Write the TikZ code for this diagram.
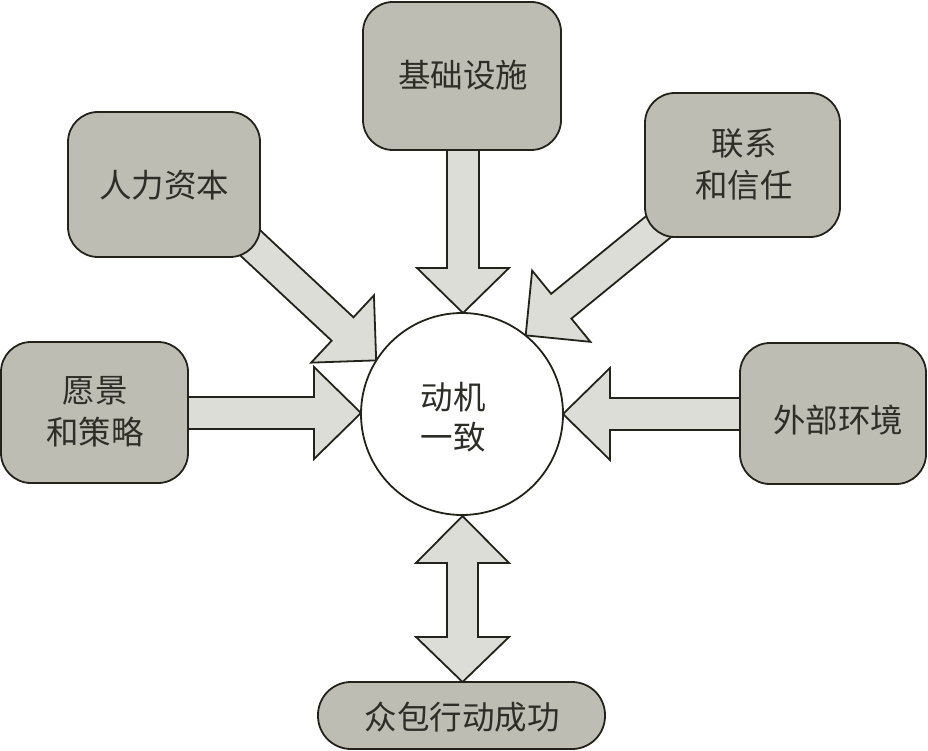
\documentclass[tikz,border=0pt]{standalone}
\usepackage{fontspec}
\newfontfamily\cjk{Noto Sans CJK SC}
\usetikzlibrary{calc}
\definecolor{boxfill}{HTML}{BDBDB4}
\definecolor{arrfill}{HTML}{DDDDD8}
\definecolor{edge}{HTML}{23231B}
\definecolor{txt}{HTML}{2E2E28}
\tikzset{
  boxstyle/.style={draw=edge, line width=1.8pt, fill=boxfill, rectangle, rounded corners=30pt, inner sep=0pt},
  arrstyle/.style={draw=edge, line width=1.8pt, fill=arrfill, line join=miter},
  labstyle/.style={text=txt, font=\cjk\fontsize{32.5}{42}\selectfont, align=center, inner sep=0pt},
}
% block arrow from #1 to #2: shaft half width #3, head half width #4, head length #5
\newcommand\blockarr[5]{%
  \coordinate (hb) at ($(#2)!#5!(#1)$);
  \draw[arrstyle] ($(#1)!#3!90:(#2)$) -- ($(hb)!#3!90:(#2)$) -- ($(hb)!#4!90:(#2)$) -- (#2)
     -- ($(hb)!#4!-90:(#2)$) -- ($(hb)!#3!-90:(#2)$) -- ($(#1)!#3!-90:(#2)$) -- cycle;
}
\begin{document}
\begin{tikzpicture}[x=1pt,y=-1pt]
\useasboundingbox (0,0) rectangle (928,751);
% centre circle position (used for anchors)
\node[circle, minimum size=202pt, inner sep=0pt] (c) at (462,414) {};
% arrow endpoints
\coordinate (hrA) at (215,210);
\coordinate (lkA) at (696,196);
\coordinate (topA) at (463,140);
\coordinate (topT) at (463,313);
\coordinate (lfA) at (180,413);
\coordinate (lfT) at (361,413);
\coordinate (rtA) at (750,414);
\coordinate (rtT) at (563,414);
% arrows
\blockarr{hrA}{c.148}{16pt}{46pt}{46pt}
\blockarr{lkA}{c.51}{16pt}{46pt}{46pt}
\blockarr{topA}{topT}{16pt}{46pt}{45pt}
\blockarr{lfA}{lfT}{16pt}{46pt}{47pt}
\blockarr{rtA}{rtT}{16pt}{46pt}{47pt}
% double arrow
\coordinate (dT1) at (462.5,516);
\coordinate (dT2) at (462.5,682);
\draw[arrstyle] (dT1) -- (509,563) -- (478,563) -- (478,637) -- (509,637) -- (dT2)
  -- (416,637) -- (447,637) -- (447,563) -- (416,563) -- cycle;
% boxes
\node[boxstyle, minimum width=198pt, minimum height=148pt] (base) at (462,76) {};
\node[boxstyle, minimum width=192pt, minimum height=145pt] (hr) at (164,184.5) {};
\node[boxstyle, minimum width=195pt, minimum height=144pt] (lk) at (742.5,165) {};
\node[boxstyle, minimum width=187pt, minimum height=141pt] (vis) at (94.5,412.5) {};
\node[boxstyle, minimum width=186pt, minimum height=141pt] (env) at (833,413.5) {};
\node[boxstyle, rounded corners=33pt, minimum width=287pt, minimum height=67pt] (suc) at (461.5,715.5) {};
\draw[draw=edge, line width=1.8pt, fill=white] (c.center) circle[radius=101pt];
% labels
\node[labstyle] (tbase) at (463,75) {基础设施};
\node[labstyle] (thr) at (164,185) {人力资本};
\node[labstyle] (tlk) at (744,164) {联系\\和信任};
\node[labstyle] (tvis) at (95,412) {愿景\\和策略};
\node[labstyle] (tenv) at (838,420) {外部环境};
\node[labstyle] (tsuc) at (462,717) {众包行动成功};
\node[labstyle, font=\cjk\fontsize{32.5}{40}\selectfont] (tc) at (453,417) {动机\\一致};
\end{tikzpicture}
\end{document}
